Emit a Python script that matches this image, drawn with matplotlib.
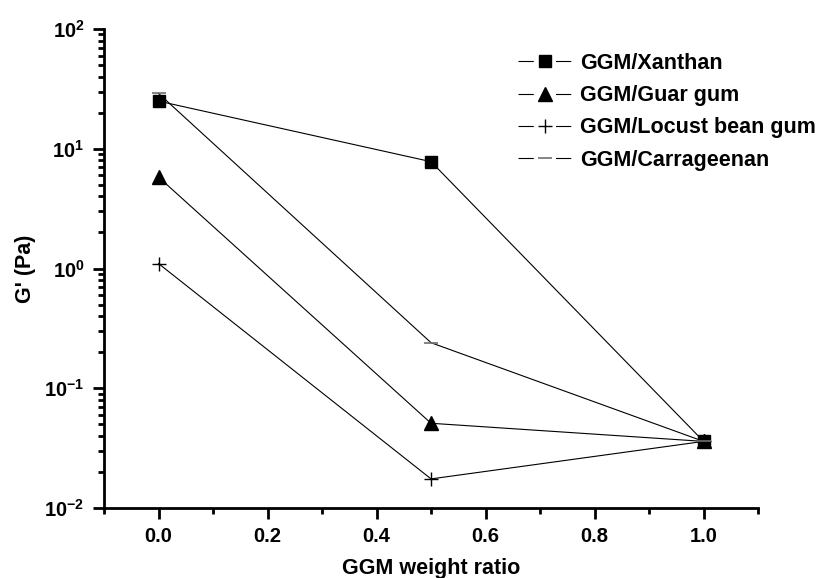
import matplotlib
matplotlib.use('Agg')
from matplotlib import pyplot as plt
from matplotlib.lines import Line2D
from matplotlib.ticker import FixedLocator, LogLocator, MultipleLocator, NullFormatter

plt.rcParams['font.family'] = ['Liberation Sans', 'DejaVu Sans']
plt.rcParams['font.weight'] = 'bold'
plt.rcParams['mathtext.fontset'] = 'custom'
plt.rcParams['mathtext.rm'] = 'Liberation Sans:bold'
plt.rcParams['mathtext.bf'] = 'Liberation Sans:bold'
plt.rcParams['lines.scale_dashes'] = False

ratio = [0.0, 0.5, 1.0]
xanthan = [25, 7.8, 0.036]
guar_gum = [5.8, 0.051, 0.036]
locust_bean_gum = [1.1, 0.0175, 0.036]
carrageenan = [29, 0.24, 0.036]

x_ticks = [0.0, 0.2, 0.4, 0.6, 0.8, 1.0]
y_ticks = [1e-2, 1e-1, 1e0, 1e1, 1e2]
y_tick_labels = [r'$\mathbf{10^{-2}}$', r'$\mathbf{10^{-1}}$', r'$\mathbf{10^{0}}$',
                 r'$\mathbf{10^{1}}$', r'$\mathbf{10^{2}}$']

fig = plt.figure(figsize=(8.28, 5.78), dpi=100)
ax = fig.add_axes([0.1256, 0.1211, 0.790, 0.8287])

lw = 0.8
styles = [
    (xanthan, 'GGM/Xanthan', dict(marker='s', ms=8.5, mfc='black', mec='black')),
    (guar_gum, 'GGM/Guar gum', dict(marker='^', ms=10, mfc='black', mec='black')),
    (locust_bean_gum, 'GGM/Locust bean gum', dict(marker='+', ms=10, mew=1.0, mec='black')),
    (carrageenan, 'GGM/Carrageenan', dict(marker='_', ms=10, mew=1.2, mec='#707070')),
]

handles = []
labels = []
for values, name, mk in styles:
    ax.plot(ratio, values, color='black', lw=lw, **mk)
    # legend key: line broken around the symbol
    seg = Line2D([], [], color='black', lw=lw,
                 linestyle=(0, (11.0, 16.0, 11.0, 100)))
    sym = Line2D([], [], linestyle='none', **mk)
    handles.append((seg, sym))
    labels.append(name)

ax.set_yscale('log')
ax.set_xlim(-0.1, 1.1)
ax.set_ylim(1e-2, 1e2)

ax.xaxis.set_major_locator(FixedLocator(x_ticks))
ax.xaxis.set_minor_locator(MultipleLocator(0.1))
ax.set_xticklabels(['%.1f' % v for v in x_ticks])
ax.yaxis.set_major_locator(FixedLocator(y_ticks))
ax.set_yticklabels(y_tick_labels)
ax.yaxis.set_minor_locator(LogLocator(base=10, subs=range(2, 10), numticks=20))
ax.yaxis.set_minor_formatter(NullFormatter())

for side in ['top', 'right']:
    ax.spines[side].set_visible(False)
for side in ['left', 'bottom']:
    ax.spines[side].set_linewidth(2)

ax.tick_params(which='major', direction='out', length=8, width=2,
               labelsize=14.5, pad=6)
ax.tick_params(which='minor', direction='out', length=4.5, width=2)

ax.set_xlabel('GGM weight ratio', fontsize=15.5, fontweight='bold', labelpad=8)
ax.set_ylabel("G' (Pa)", fontsize=15.5, fontweight='bold', labelpad=6)

fig.legend(handles, labels, loc='upper left',
           bbox_to_anchor=(518 / 828, 1 - 53 / 578), bbox_transform=fig.transFigure,
           frameon=False, borderpad=0, borderaxespad=0,
           fontsize=15.5, handlelength=2.5, handletextpad=0.4, labelspacing=0.52)

fig.savefig('out.png', dpi=100)
